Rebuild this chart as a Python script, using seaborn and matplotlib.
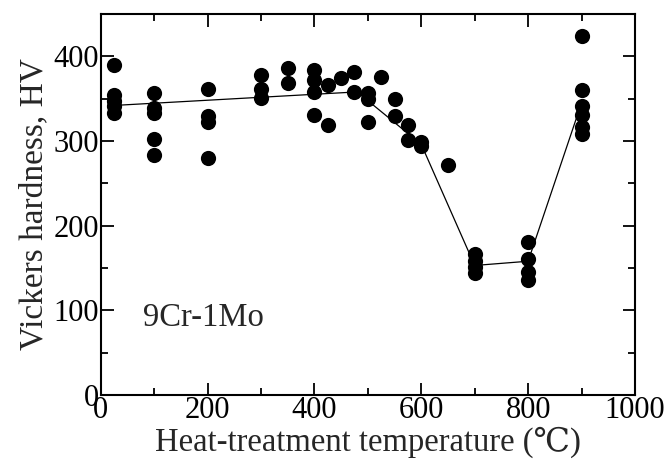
import matplotlib
matplotlib.use("Agg")
import matplotlib.pyplot as plt
import seaborn as sns
import pandas as pd
from matplotlib.ticker import MultipleLocator

# Measured points (temperature in degC, Vickers hardness HV)
temp_25 = [390, 354, 347, 341, 333]
temp_100 = [357, 339, 333, 302, 283]
temp_200 = [361, 329, 322, 280]
temp_300 = [378, 361, 351]
temp_350 = [386, 369]
temp_400 = [384, 372, 358, 331]
temp_425 = [366, 319]
temp_450 = [375]
temp_475 = [382, 358]
temp_500 = [357, 350, 323]
temp_525 = [376]
temp_550 = [350, 329]
temp_575 = [319, 301]
temp_600 = [299, 294]
temp_650 = [272]
temp_700 = [167, 158, 151, 144]
temp_800 = [181, 161, 145, 136]
temp_900 = [424, 360, 341, 331, 316, 308]

groups = {25: temp_25, 100: temp_100, 200: temp_200, 300: temp_300, 350: temp_350,
          400: temp_400, 425: temp_425, 450: temp_450, 475: temp_475, 500: temp_500,
          525: temp_525, 550: temp_550, 575: temp_575, 600: temp_600, 650: temp_650,
          700: temp_700, 800: temp_800, 900: temp_900}

# Trend line
line_temp = [25, 480, 600, 700, 800, 900]
line_hv = [342, 358, 296, 153, 158, 345]

rows = [(t, v) for t, vals in groups.items() for v in vals]
df = pd.DataFrame(rows, columns=["temp", "hv"])
df_line = pd.DataFrame({"temp": line_temp, "hv": line_hv})

sns.set_style("ticks")
plt.rcParams["font.family"] = ["Liberation Serif", "DejaVu Serif", "DejaVu Sans"]

fig = plt.figure(figsize=(6.67, 4.59), dpi=100)
ax = fig.add_axes([0.151, 0.1394, 0.801, 0.8301])

sns.lineplot(data=df_line, x="temp", y="hv", color="black", linewidth=0.9,
             ax=ax, sort=False, estimator=None)
sns.scatterplot(data=df, x="temp", y="hv", color="black", s=120,
                edgecolor="black", linewidth=0, ax=ax, zorder=3)

ax.set_xlim(0, 1000)
ax.set_ylim(0, 450)
ax.xaxis.set_major_locator(MultipleLocator(200))
ax.xaxis.set_minor_locator(MultipleLocator(100))
ax.yaxis.set_major_locator(MultipleLocator(100))
ax.yaxis.set_minor_locator(MultipleLocator(50))
ax.tick_params(which="both", direction="in", top=True, right=True,
               width=1.3, labelsize=22, colors="black", pad=1)
ax.tick_params(which="major", length=9)
ax.tick_params(which="minor", length=5)
for sp in ax.spines.values():
    sp.set_linewidth(1.5)
    sp.set_color("black")

ax.set_xlabel("Heat-treatment temperature (\u2103)", fontsize=23.5, labelpad=1)
ax.set_ylabel("Vickers hardness, HV", fontsize=24, labelpad=3)
ax.text(79, 81, "9Cr-1Mo", fontsize=23.5)

fig.savefig("out.png", dpi=100)
